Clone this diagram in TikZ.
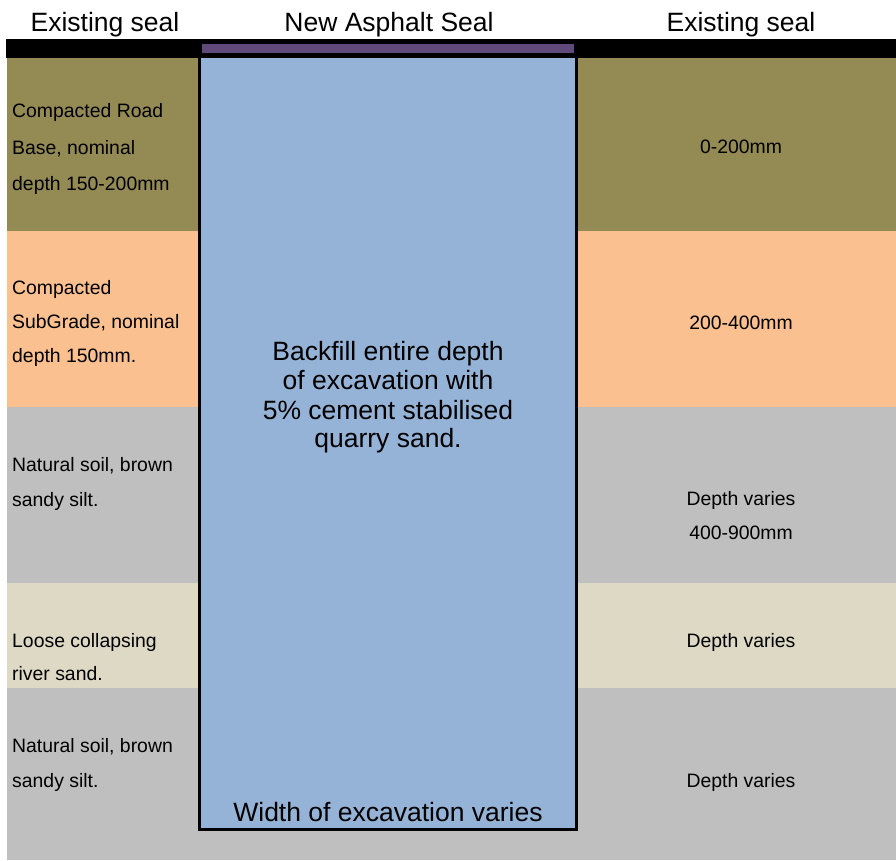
\documentclass[tikz,border=0pt]{standalone}
\usepackage{fontspec}
\setmainfont{Liberation Sans}
\definecolor{olivelayer}{HTML}{948A54}
\definecolor{orangelayer}{HTML}{FAC090}
\definecolor{greylayer}{HTML}{BFBFBF}
\definecolor{beigelayer}{HTML}{DDD9C4}
\definecolor{fillblue}{HTML}{95B3D7}
\definecolor{sealpurple}{HTML}{604A7B}
\begin{document}
\begin{tikzpicture}[x=1pt,y=-1pt,
  small/.style={font=\fontsize{19.4}{19.4}\selectfont, inner sep=0pt, anchor=base west},
  smallc/.style={font=\fontsize{19.4}{19.4}\selectfont, inner sep=0pt, anchor=base},
  big/.style={font=\fontsize{26.5}{29}\selectfont, inner sep=0pt, anchor=base}]
\useasboundingbox (0,0) rectangle (896,860);
\fill[white] (0,0) rectangle (896,860);
% layers
\fill[olivelayer] (7,58) rectangle (896,231);
\fill[orangelayer] (7,231) rectangle (896,407);
\fill[greylayer] (7,407) rectangle (896,583);
\fill[beigelayer] (7,583) rectangle (896,688);
\fill[greylayer] (7,688) rectangle (896,860);
% existing seal black bar
\fill[black] (6,39) rectangle (896,58);
% excavation
\fill[fillblue] (199.5,58) rectangle (576,829);
\draw[line width=3pt] (199.5,56) -- (199.5,829) -- (576,829) -- (576,56);
% new asphalt seal
\fill[sealpurple] (202,44) rectangle (574,53);
% headers
\node[big] (h1) at (105,31) {Existing seal};
\node[big] (h2) at (389,31) {New Asphalt Seal};
\node[big] (h3) at (741,31) {Existing seal};
% left labels
\node[small] (a1) at (12,117) {Compacted Road};
\node[small] (a2) at (12,154) {Base, nominal};
\node[small] (a3) at (12,190) {depth 150-200mm};
\node[small] (b1) at (12,294) {Compacted};
\node[small] (b2) at (12,328) {SubGrade, nominal};
\node[small] (b3) at (12,362) {depth 150mm.};
\node[small] (c1) at (12,471) {Natural soil, brown};
\node[small] (c2) at (12,506) {sandy silt.};
\node[small] (d1) at (12,647) {Loose collapsing};
\node[small] (d2) at (12,680) {river sand.};
\node[small] (e1) at (12,752) {Natural soil, brown};
\node[small] (e2) at (12,787) {sandy silt.};
% right labels
\node[smallc] (r1) at (741,153) {0-200mm};
\node[smallc] (r2) at (741,329) {200-400mm};
\node[smallc] (r3) at (741,505) {Depth varies};
\node[smallc] (r4) at (741,539) {400-900mm};
\node[smallc] (r5) at (741,647) {Depth varies};
\node[smallc] (r6) at (741,787) {Depth varies};
% centre text
\node[big] (m1) at (388,360) {Backfill entire depth};
\node[big] (m2) at (388,389) {of excavation with};
\node[big] (m3) at (388,419) {5\% cement stabilised};
\node[big] (m4) at (388,447) {quarry sand.};
\node[big] (w1) at (388,821) {Width of excavation varies};
\end{tikzpicture}
\end{document}
